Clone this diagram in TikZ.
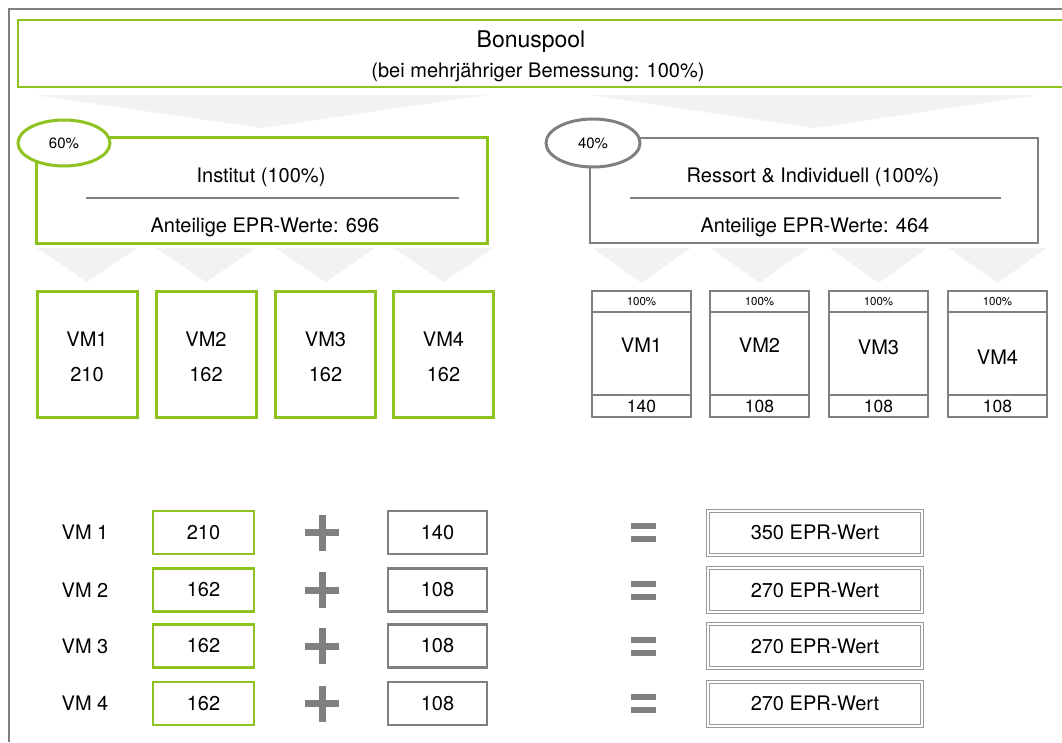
\documentclass[tikz,border=0pt]{standalone}
\usepackage{fontspec}
\setmainfont{TeX Gyre Heros}
\usepackage{tikz}
\usetikzlibrary{shapes.geometric}
\definecolor{lime}{RGB}{141,194,31}
\definecolor{slate}{RGB}{128,128,128}
\definecolor{haze}{RGB}{242,242,242}
\tikzstyle{frame}=[draw=slate, line width=1.5pt]
\tikzstyle{pool-box}=[draw=lime, line width=2pt, rectangle, minimum width=1052pt, minimum height=67pt]
\tikzstyle{green-part}=[draw=lime, line width=3pt, rectangle, minimum width=451pt, minimum height=106pt]
\tikzstyle{gray-part}=[draw=slate, line width=2.5pt, rectangle, minimum width=448pt, minimum height=105pt]
\tikzstyle{green-share}=[draw=lime, fill=white, line width=3pt, ellipse, minimum width=92pt, minimum height=46pt, font=\fontsize{15}{18}\selectfont]
\tikzstyle{gray-share}=[draw=slate, fill=white, line width=3pt, ellipse, minimum width=94pt, minimum height=48pt, font=\fontsize{15}{18}\selectfont]
\tikzstyle{rule}=[draw=slate, line width=2.5pt]
\tikzstyle{chevron}=[fill=haze]
\tikzstyle{green-vm}=[draw=lime, line width=3pt, rectangle, minimum width=100pt, minimum height=126pt]
\tikzstyle{gray-cell}=[draw=slate, line width=2.5pt, rectangle, minimum width=99pt]
\tikzstyle{green-sum}=[draw=lime, line width=2.5pt, rectangle, minimum width=101pt, minimum height=43pt]
\tikzstyle{gray-sum}=[draw=slate, line width=2.5pt, rectangle, minimum width=99pt, minimum height=43pt]
\tikzstyle{result}=[draw=slate!80, double=white, double distance=2pt, line width=1pt, rectangle, minimum width=214pt, minimum height=44pt]
\tikzstyle{sign}=[fill=slate]

\begin{document}
\begin{tikzpicture}[x=1pt, y=-1pt, font=\fontsize{20}{24}\selectfont]
\useasboundingbox (0,0) rectangle (1062,742);

\draw [frame] (9,742) -- (9,9) -- (1062,9);

% pool
\node[pool-box] (pool) at (544,53.5) {};
\node[font=\fontsize{23}{27}\selectfont] (pooltitle) at (531,42) {Bonuspool};
\node (poolsub) at (538,72) {(bei mehrjähriger Bemessung: 100\%)};
\fill[chevron] (35,95) -- (487,95) -- (261,128) -- cycle;
\fill[chevron] (590,95) -- (1038,95) -- (814,128) -- cycle;

% two parts
\node[green-part] (inst) at (261.5,190) {};
\node[green-share] (instshare) at (64,143) {60\%};
\node (insttitle) at (261,177) {Institut (100\%)};
\draw [rule] (86,198) -- (459,198);
\node (instepr) at (265,227) {Anteilige EPR-Werte: 696};

\node[gray-part] (ress) at (814,190.5) {};
\node[gray-share] (ressshare) at (593,143) {40\%};
\node (resstitle) at (813,177) {Ressort \& Individuell (100\%)};
\draw [rule] (630,198) -- (1001,198);
\node (ressepr) at (815,227) {Anteilige EPR-Werte: 464};

% members, institut
\foreach \i/\x/\v in {1/87/210, 2/206/162, 3/325.5/162, 4/443.5/162}
{
  \fill[chevron] (\x-50,248) -- (\x+50,248) -- (\x,282) -- cycle;
  \node[green-vm] (ivm\i) at (\x,354) {};
  \node (iname\i) at (\x,339) {VM\i};
  \node (ival\i) at (\x,375) {\v};
}

% members, ressort
\foreach \i/\x/\v/\ny in {1/641.5/140/345, 2/759.5/108/345, 3/878.5/108/347, 4/997.5/108/357}
{
  \fill[chevron] (\x-49,248) -- (\x+49,248) -- (\x,283) -- cycle;
  \node[gray-cell, minimum height=21pt, font=\fontsize{11.5}{14}\selectfont] (rpct\i) at (\x,301.5) {100\%};
  \node[gray-cell, minimum height=83pt] (rmid\i) at (\x,353.5) {};
  \node[gray-cell, minimum height=22pt, font=\fontsize{17.5}{21}\selectfont] (rval\i) at (\x,406) {\v};
  \node (rname\i) at (\x,\ny) {VM\i};
}

% sums
\foreach \i/\y/\a/\b/\s in {1/532.5/210/140/350, 2/590/162/108/270, 3/646/162/108/270, 4/703.5/162/108/270}
{
  \node (sname\i) at (85,\y) {VM \i};
  \node[green-sum] (sa\i) at (203.5,\y) {\a};
  \fill[sign] (318.5,\y-18) rectangle (325.5,\y+18);
  \fill[sign] (305,\y-3.5) rectangle (339,\y+3.5);
  \node[gray-sum] (sb\i) at (437.5,\y) {\b};
  \fill[sign] (630.5,\y-9.5) rectangle (655.5,\y-3.5);
  \fill[sign] (630.5,\y+3.5) rectangle (655.5,\y+9.5);
  \node[result] (ss\i) at (815,\y) {\s{} EPR-Wert};
}
\end{tikzpicture}
\end{document}
